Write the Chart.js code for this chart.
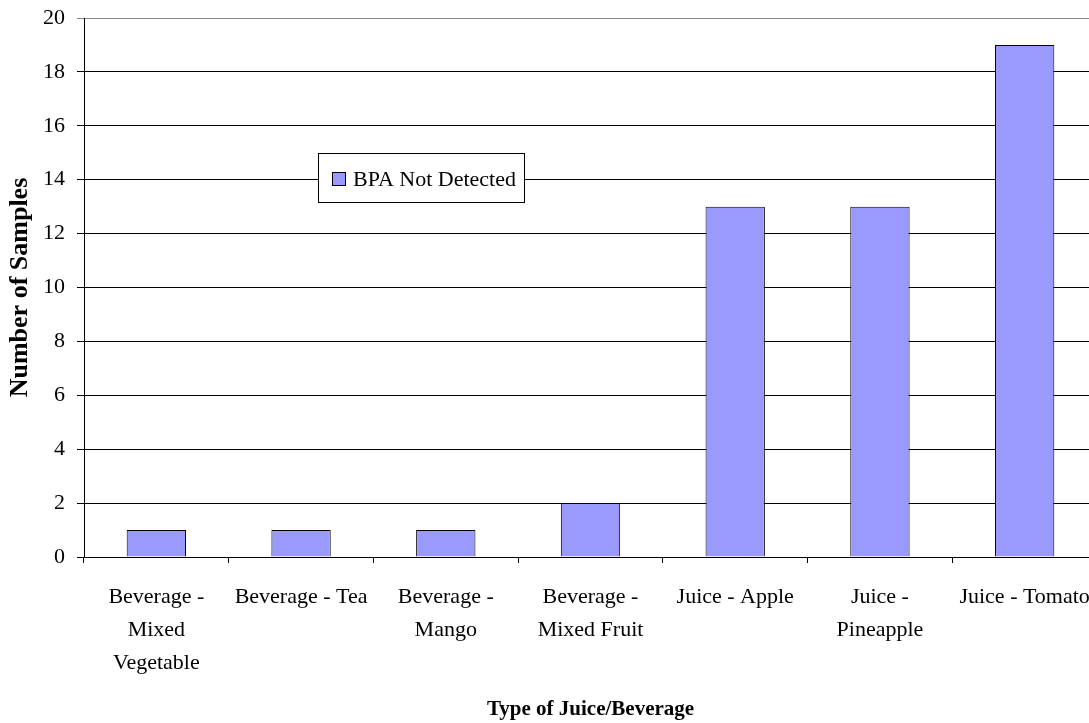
<!DOCTYPE html>
<html>
<head>
<meta charset="utf-8">
<script src="https://cdn.jsdelivr.net/npm/chart.js@4"></script>
<style>
  body { margin: 0; background: #fff; overflow: hidden; }
  #wrap { width: 1100px; height: 723px; position: relative; }
</style>
</head>
<body>
<div id="wrap"><canvas id="juiceChart"></canvas></div>
<script>
const categories = [
  ["Beverage -", "Mixed", "Vegetable"],
  "Beverage - Tea",
  ["Beverage -", "Mango"],
  ["Beverage -", "Mixed Fruit"],
  "Juice - Apple",
  ["Juice -", "Pineapple"],
  "Juice - Tomato",
];
const notDetected = [1, 1, 1, 2, 13, 13, 19];
const seriesName = "BPA Not Detected";
const yTicks = [0, 2, 4, 6, 8, 10, 12, 14, 16, 18, 20];

const serif = "'Liberation Serif', 'Times New Roman', serif";

// legend box sits inside the plot, Excel style
const boxLegend = {
  id: "boxLegend",
  afterDraw(chart) {
    const ctx = chart.ctx;
    const area = chart.chartArea;
    const ds = chart.data.datasets[0];
    const x = area.left + 234;
    const y = area.top + 135;
    const w = 206;
    const h = 49;
    ctx.save();
    ctx.fillStyle = "#fff";
    ctx.fillRect(x, y, w, h);
    ctx.strokeStyle = "#000";
    ctx.lineWidth = 1;
    ctx.strokeRect(x + 0.5, y + 0.5, w, h);
    ctx.fillStyle = ds.backgroundColor;
    ctx.fillRect(x + 14, y + 19, 13, 13);
    ctx.strokeRect(x + 14.5, y + 19.5, 13, 13);
    ctx.fillStyle = "#000";
    ctx.font = "22px " + serif;
    ctx.textBaseline = "middle";
    ctx.fillText(ds.label, x + 35, y + 27);
    ctx.restore();
  },
};

new Chart(document.getElementById("juiceChart"), {
  type: "bar",
  data: {
    labels: categories,
    datasets: [
      {
        label: seriesName,
        data: notDetected,
        backgroundColor: "#9999ff",
        borderColor: "#000",
        borderWidth: 1,
        barPercentage: 0.41,
        categoryPercentage: 1,
      },
    ],
  },
  options: {
    responsive: true,
    maintainAspectRatio: false,
    animation: false,
    layout: { padding: { top: 0, right: 3, left: 0, bottom: 0 } },
    plugins: {
      legend: { display: false },
      tooltip: { enabled: false },
    },
    scales: {
      x: {
        offset: true,
        afterFit(axis) {
          axis.height = 166;
          axis.paddingLeft = 0;
          axis.paddingRight = 0;
        },
        grid: {
          drawOnChartArea: false,
          drawTicks: true,
          tickLength: 6,
          color: "#000",
        },
        border: { color: "#000", width: 1 },
        ticks: {
          color: "#000",
          font: { family: serif, size: 22, lineHeight: 1.5 },
          padding: 17.5,
          maxRotation: 0,
          autoSkip: false,
        },
        title: {
          display: true,
          text: "Type of Juice/Beverage",
          color: "#000",
          font: { family: serif, size: 21, weight: "bold", lineHeight: 1.2 },
          padding: { top: 0, bottom: 0.5 },
        },
      },
      y: {
        min: 0,
        max: 20,
        afterBuildTicks(axis) {
          axis.ticks = yTicks.map((v) => ({ value: v }));
        },
        afterFit(axis) {
          axis.width = 84;
          axis.paddingTop = 18;
        },
        grid: {
          color: (c) => (c.tick && c.tick.value === 20 ? "#888" : "#000"),
          tickLength: 7,
        },
        border: { color: "#000", width: 1 },
        ticks: {
          color: "#000",
          font: { family: serif, size: 22 },
          padding: 12,
        },
        title: {
          display: true,
          text: "Number of Samples",
          color: "#000",
          font: { family: serif, size: 26, weight: "bold", lineHeight: 1.2 },
          padding: { top: 5, bottom: 0 },
        },
      },
    },
  },
  plugins: [boxLegend],
});
</script>
</body>
</html>
